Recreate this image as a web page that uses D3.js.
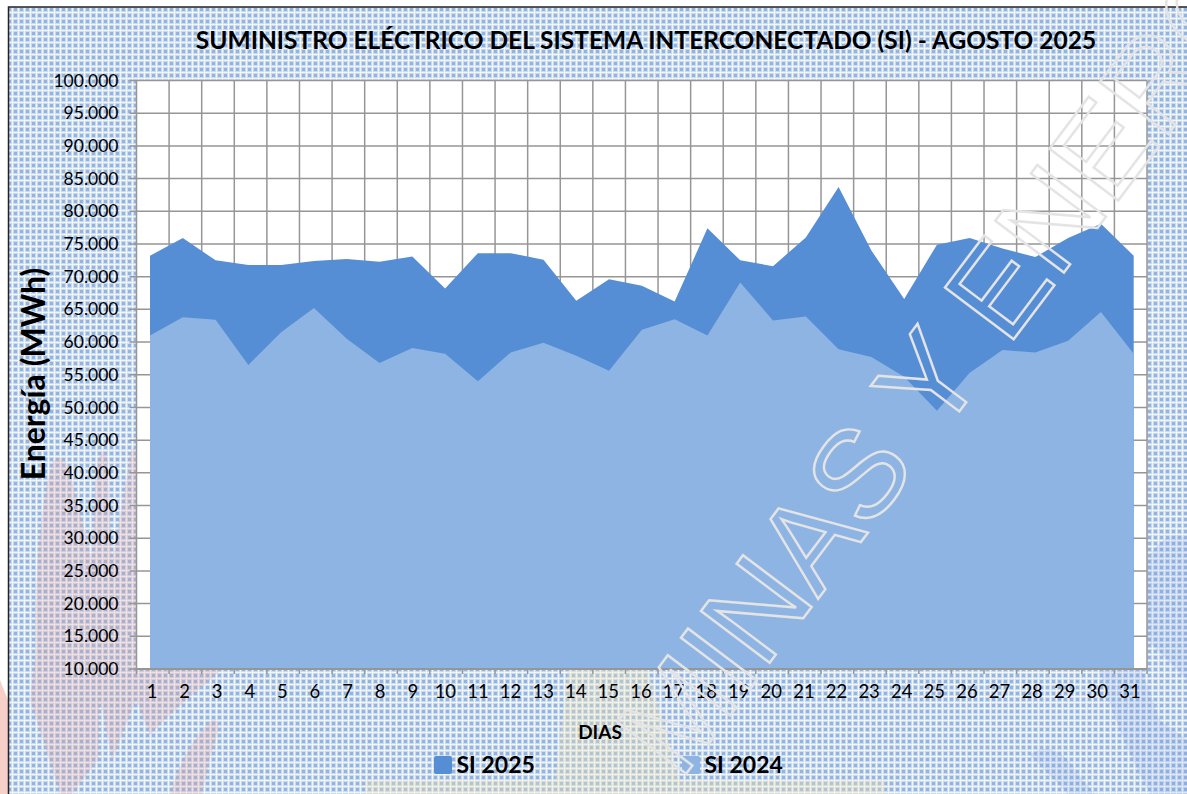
<!doctype html>
<html>
<head>
  <title>Suministro eléctrico SI - Agosto 2025</title>
  <meta charset="UTF-8">
  <script src="https://d3js.org/d3.v7.min.js"></script>
  <style>
    html, body { margin: 0; padding: 0; background: #fff; overflow: hidden; }
    text { font-family: Lato, "Open Sans", sans-serif; fill: #000; }
  </style>
</head>
<body>
<div id="svg_area"></div>
<script>
// values (MWh per day)
var dias = d3.range(1, 32).map(String);
var si2025 = [73200,75900,72500,71800,71800,72400,72700,72300,73100,68200,73600,73600,72600,66300,69600,68600,66200,77400,72500,71600,76000,83700,74000,66600,74900,75900,74300,73000,75900,78100,73200];
var si2024 = [61000,63800,63400,56500,61500,65200,60500,56800,59100,58200,54000,58400,59900,57900,55600,61900,63500,61000,69100,63300,63900,58900,57700,54700,49500,55300,58800,58400,60200,64600,58200];
var yTicks = [10000,15000,20000,25000,30000,35000,40000,45000,50000,55000,60000,65000,70000,75000,80000,85000,90000,95000,100000];
var colors = ["#558ed5", "#8eb4e3"];
var names = ["SI 2025", "SI 2024"];

var width = 1187, height = 794;
var left = 136.5, right = 1147, top_ = 80.5, bottom = 669;

var svg = d3.select("#svg_area").append("svg")
  .attr("width", width).attr("height", height).style("display", "block");

// background texture of the slide
var defs = svg.append("defs");
var tile = defs.append("pattern").attr("id", "tex")
  .attr("patternUnits", "userSpaceOnUse").attr("width", 6).attr("height", 6);
tile.append("rect").attr("width", 6).attr("height", 6).attr("fill", "#8fb2e0").attr("fill-opacity", 0.48);
tile.append("rect").attr("x", 2).attr("y", 2).attr("width", 3).attr("height", 3).attr("fill", "#5f8fd0").attr("fill-opacity", 0.5);
tile.append("rect").attr("width", 6).attr("height", 1).attr("fill", "#fff").attr("fill-opacity", 0.7);
tile.append("rect").attr("width", 1).attr("height", 6).attr("fill", "#fff").attr("fill-opacity", 0.7);

svg.append("rect").attr("width", width).attr("height", height).attr("fill", "#fff");
svg.append("rect").attr("x", 8).attr("y", 7).attr("width", width - 8).attr("height", height - 7).attr("fill", "url(#tex)");

// faded logos tinting the texture
var logos = svg.append("g");
logos.append("path").attr("fill", "#f6cfc8")
  .attr("d", "M0,680 L8,700 L8,794 L0,794Z");
var red = logos.append("g").attr("fill", "#f0a090").attr("fill-opacity", 0.24);
red.append("path")
  .attr("d", "M36,650 C34,600 38,520 50,470 C55,450 68,455 72,480 L92,560 L96,470 C100,445 108,445 108,470 L112,560 L128,470 C130,445 136,440 136,460 L136,669 L222,669 C200,690 170,712 150,735 L136,700 L112,760 L100,700 L98,760 L72,794 L60,794 L30,700Z");
red.append("path")
  .attr("d", "M170,794 C180,760 195,735 212,720 C222,718 218,735 212,750 L202,794Z");
var yellow = logos.append("g").attr("fill", "#f7e6b0").attr("fill-opacity", 0.32);
yellow.append("path").attr("d", "M568,669 L648,669 L680,780 L555,780 L562,720Z");
yellow.append("rect").attr("x", 365).attr("y", 780).attr("width", 520).attr("height", 14);
var blue = logos.append("g").attr("fill", "#6f97d6").attr("fill-opacity", 0.14);
blue.append("path")
  .attr("d", "M1068,794 L1030,755 C1040,745 1060,745 1075,770 L1095,794Z");
blue.append("path")
  .attr("d", "M1150,794 C1120,740 1100,680 1085,620 L1110,590 C1130,640 1150,690 1160,720 L1187,740 L1187,794Z");
blue.append("path")
  .attr("d", "M1147,560 C1160,535 1180,530 1187,540 L1187,680 L1147,640Z");

svg.append("path").attr("d", "M8.5,794 L8.5,7 L1187,7").attr("fill", "none").attr("stroke", "#222").attr("stroke-width", 1.5);

// scales
var xBand = d3.scaleBand().domain(dias).range([left, right]);
var xArea = d3.scalePoint().domain(dias).range([150, 1133.7]);
var y = d3.scaleLinear().domain([10000, 100000]).range([bottom, top_]);
var miles = d3.formatLocale({ decimal: ",", thousands: ".", grouping: [3], currency: ["", ""] }).format(",d");

// plot background and grid
svg.append("rect").attr("x", left).attr("y", top_).attr("width", right - left).attr("height", bottom - top_).attr("fill", "#fff");

var gridX = d3.range(0, 32).map(function (i) { return left + i * xBand.bandwidth(); });
svg.append("g").selectAll("line").data(gridX).enter().append("line")
  .attr("x1", function (d) { return d; }).attr("x2", function (d) { return d; })
  .attr("y1", top_).attr("y2", bottom + 5)
  .attr("stroke", "#969696").attr("stroke-width", 1.5);

svg.append("g").selectAll("line").data(yTicks).enter().append("line")
  .attr("x1", left - 7).attr("x2", right)
  .attr("y1", function (d) { return y(d); }).attr("y2", function (d) { return y(d); })
  .attr("stroke", "#969696").attr("stroke-width", 1.5);

// areas, 2025 behind 2024
var areaOf = function (vals) {
  return d3.area()
    .x(function (d, i) { return xArea(dias[i]); })
    .y0(bottom).y1(function (d) { return y(d); })(vals);
};
svg.append("path").attr("d", areaOf(si2025)).attr("fill", colors[0]);
svg.append("path").attr("d", areaOf(si2024)).attr("fill", colors[1]);

// redraw the bottom edge over the areas
svg.append("line").attr("x1", left).attr("x2", right).attr("y1", bottom).attr("y2", bottom).attr("stroke", "#969696").attr("stroke-width", 2);

// axes
var yAxis = d3.axisLeft(y).tickValues(yTicks).tickFormat(miles).tickSize(0).tickPadding(18);
var gy = svg.append("g").attr("transform", "translate(" + left + ",0)").call(yAxis);
gy.select(".domain").remove();
gy.selectAll("text").attr("font-size", 17.5).style("font-family", "Lato").attr("fill", "#111");

var xAxis = d3.axisBottom(xBand).tickSize(0).tickPadding(16);
var gx = svg.append("g").attr("transform", "translate(-0.8," + bottom + ")").call(xAxis);
gx.select(".domain").remove();
gx.selectAll("text").attr("font-size", 18.5).style("font-family", "Lato").attr("fill", "#111");

// titles
svg.append("text").attr("x", 646).attr("y", 49).attr("text-anchor", "middle")
  .attr("font-size", 24.5).attr("font-weight", 700)
  .text("SUMINISTRO ELÉCTRICO DEL SISTEMA INTERCONECTADO (SI) - AGOSTO 2025");
svg.append("text").attr("transform", "translate(45,374) rotate(-90)").attr("text-anchor", "middle")
  .attr("font-size", 32).attr("font-weight", 700).text("Energía (MWh)");
svg.append("text").attr("x", 600).attr("y", 739).attr("text-anchor", "middle")
  .attr("font-size", 19).attr("font-weight", 700).text("DIAS");

// legend
var legend = svg.append("g").selectAll("g").data(names).enter().append("g")
  .attr("transform", function (d, i) { return "translate(" + (i === 0 ? 434 : 682) + ",756)"; });
legend.append("rect").attr("width", 18).attr("height", 18).attr("rx", 2)
  .attr("fill", function (d, i) { return colors[i]; });
legend.append("text").attr("x", 22.5).attr("y", 16.5).attr("font-size", 23).attr("font-weight", 700)
  .text(function (d) { return d; });

// outlined watermark over everything
svg.append("text").attr("transform", "translate(680,782) rotate(-53)")
  .style("font-family", "Liberation Sans").style("fill", "none").style("stroke", "#e4e4e4")
  .attr("stroke-width", 2.4).attr("font-size", 125)
  .text("MINAS Y ENERGÍA");
</script>
</body>
</html>
